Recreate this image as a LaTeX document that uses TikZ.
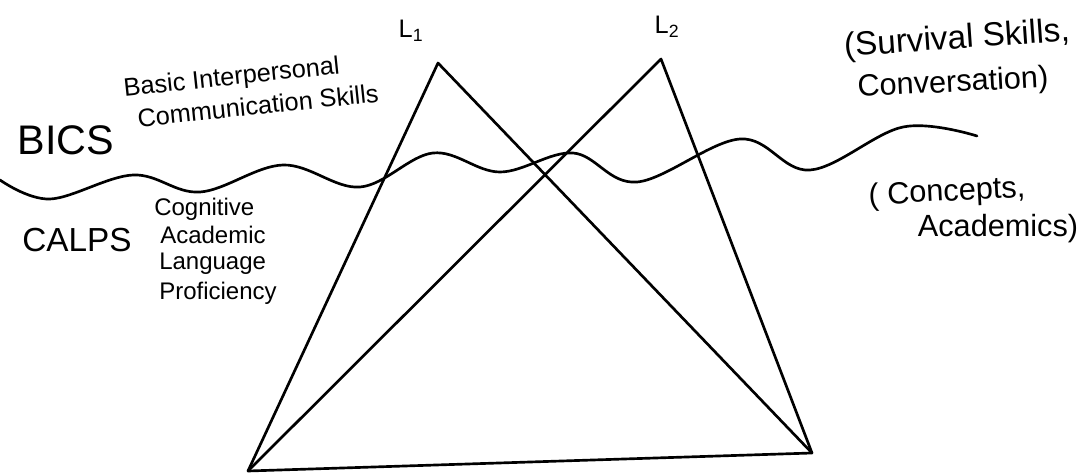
\documentclass[tikz,border=0pt]{standalone}
\usepackage{fontspec}
\setmainfont{Liberation Sans}
\begin{document}
\begin{tikzpicture}[x=0.75pt,y=-0.75pt,
  ink/.style={draw=black,line width=2pt,line join=round,line cap=round},
  lbl/.style={inner sep=0pt,text=black},
  mid/.style={lbl,font=\fontsize{19}{22}\selectfont},
  small/.style={lbl,font=\fontsize{18}{21}\selectfont},
  side/.style={lbl,font=\fontsize{23}{26}\selectfont}]
\useasboundingbox[fill=white] (0,0) rectangle (1085,474);
% apexes and base
\coordinate (A1) at (438,63);
\coordinate (A2) at (661,59);
\coordinate (BL) at (248,471);
\coordinate (BR) at (812,453);
\draw[ink] (BL) -- (A1) -- (BR);
\draw[ink] (BL) -- (A2) -- (BR);
\draw[ink] (BL) -- (BR);
% wavy line
\draw[ink] plot[smooth,tension=0.6] coordinates {(0,180) (50,199) (133,175) (200,192) (283,165) (360,187) (433,153) (500,172) (573,153) (637,182) (740,139) (810,170) (903,127) (977,136)};
% labels
\node[mid] (l1) at (411,31) {L\textsubscript{1}};
\node[mid] (l2) at (667,27) {L\textsubscript{2}};
\node[lbl,rotate=6,align=left,font=\fontsize{19}{24}\selectfont] (bics-text) at (251,90)
  {Basic Interpersonal\\\hspace{8pt}Communication Skills};
\node[lbl,font=\fontsize{31}{34}\selectfont] (bics) at (66,140) {BICS};
\node[lbl,font=\fontsize{25}{28}\selectfont] (calps) at (77,240) {CALPS};
\node[small,anchor=west] (cog) at (154,209) {Cognitive};
\node[small,anchor=west] (aca) at (160,235) {Academic};
\node[small,anchor=west] (lan) at (159,264) {Language};
\node[small,anchor=west] (pro) at (159,293) {Proficiency};
\node[side,rotate=4,font=\fontsize{25}{28}\selectfont] (sur) at (957,40) {(Survival Skills,};
\node[side,rotate=3] (con) at (953,84) {Conversation)};
\node[side,rotate=3] (cpt) at (947,193) {( Concepts,};
\node[side] (acs) at (998,229) {Academics)};
\end{tikzpicture}
\end{document}
